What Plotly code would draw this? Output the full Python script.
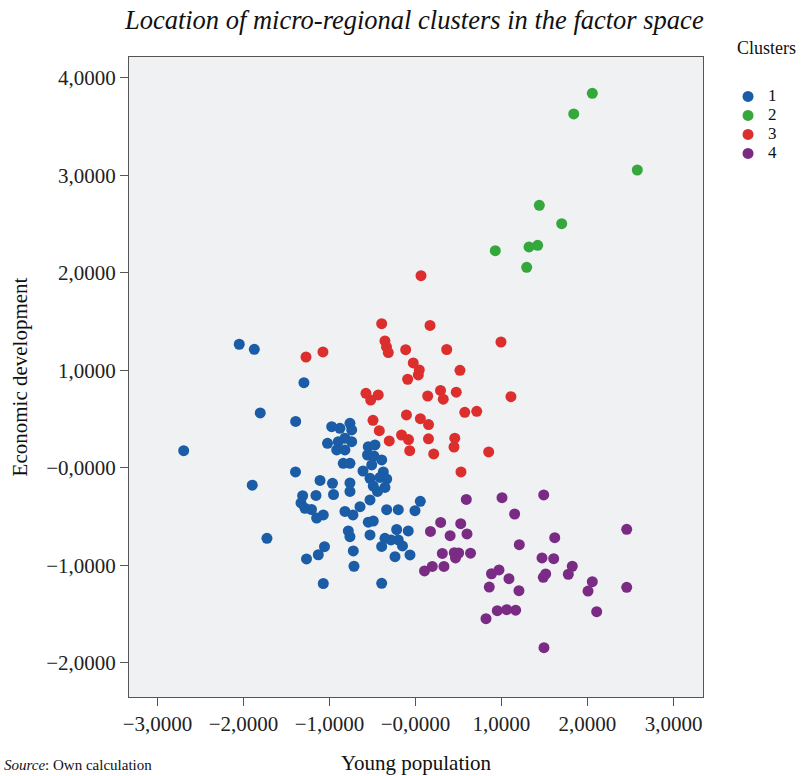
import plotly.graph_objects as go

# ---------------- data ----------------
cluster_names = ["1", "2", "3", "4"]
cluster_colors = ["#1a5ca6", "#35a83c", "#dd2e2e", "#7a2c85"]

c1_x = [-2.049, -1.874, -1.297, -1.805, -1.393, -2.695, -1.395, -1.898, -1.110, -0.965,
        -0.953, -1.312, -1.331, -1.285, -1.157, -1.209, -1.072, -1.149, -1.727, -1.058,
        -1.130, -1.267, -1.072, -0.974, -0.878, -0.762, -0.742, -1.023, -0.898, -0.820,
        -0.742, -0.916, -0.820, -0.549, -0.471, -0.558, -0.483, -0.393, -0.840, -0.762,
        -0.509, -0.610, -0.374, -0.529, -0.413, -0.335, -0.762, -0.491, -0.355, -0.762,
        -0.442, -0.529, -0.645, -0.820, -0.727, -0.335, -0.200, -0.006, 0.056, -0.549,
        -0.491, -0.781, -0.762, -0.529, -0.219, -0.084, -0.355, -0.285, -0.200, -0.393,
        -0.151, -0.723, -0.238, -0.064, -0.715, -0.393]
c1_y = [1.269, 1.217, 0.875, 0.564, 0.477, 0.177, -0.041, -0.177, -0.128, -0.157,
        -0.272, -0.285, -0.359, -0.413, -0.282, -0.426, -0.482, -0.513, -0.721, -0.807,
        -0.890, -0.933, -1.185, 0.424, 0.407, 0.458, 0.390, 0.253, 0.270, 0.305,
        0.270, 0.185, 0.185, 0.218, 0.236, 0.133, 0.123, 0.082, 0.048, 0.048,
        0.031, -0.031, -0.041, -0.106, -0.097, -0.113, -0.154, -0.185, -0.200, -0.241,
        -0.241, -0.328, -0.397, -0.446, -0.482, -0.428, -0.428, -0.438, -0.342, -0.556,
        -0.544, -0.646, -0.705, -0.687, -0.631, -0.646, -0.721, -0.738, -0.738, -0.805,
        -0.800, -0.851, -0.910, -0.892, -1.008, -1.183]

c2_x = [2.056, 1.840, 2.579, 1.440, 1.700, 1.320, 1.421, 0.928, 1.293]
c2_y = [3.843, 3.631, 3.056, 2.694, 2.506, 2.267, 2.284, 2.229, 2.058]

c3_x = [-1.273, -1.076, -0.393, -0.355, -0.337, -0.316, -0.114, -0.026, 0.044, 0.033,
        -0.091, 0.064, 0.169, 0.363, 0.517, 0.994, -0.576, -0.433, -0.521, 0.142,
        0.291, 0.323, 0.474, 0.573, 0.712, 1.110, -0.105, 0.057, 0.152, -0.494,
        -0.421, -0.162, -0.081, -0.305, 0.151, 0.457, 0.448, -0.067, 0.212, 0.851,
        0.529]
c3_y = [1.138, 1.190, 1.480, 1.303, 1.241, 1.183, 1.213, 1.077, 1.005, 0.954,
        0.910, 1.972, 1.462, 1.215, 1.002, 1.292, 0.766, 0.749, 0.697, 0.738,
        0.795, 0.706, 0.777, 0.571, 0.581, 0.731, 0.544, 0.505, 0.445, 0.489,
        0.383, 0.338, 0.291, 0.277, 0.299, 0.305, 0.215, 0.177, 0.144, 0.164,
        -0.041]

c4_x = [0.591, 1.006, 1.491, 1.153, 2.456, 1.619, 0.293, 0.526, 0.174, 0.403,
        0.599, 1.207, 0.312, 0.451, 0.502, 0.465, 0.640, 0.195, 0.105, 0.331,
        1.471, 1.607, 1.823, 1.777, 1.514, 1.486, 0.884, 0.971, 1.087, 0.858,
        1.203, 2.056, 2.006, 2.456, 2.107, 0.951, 1.060, 1.165, 0.820, 1.494]
c4_y = [-0.323, -0.305, -0.277, -0.472, -0.629, -0.715, -0.559, -0.571, -0.651, -0.694,
        -0.677, -0.787, -0.877, -0.869, -0.872, -0.923, -0.874, -1.010, -1.056, -1.010,
        -0.923, -0.930, -1.008, -1.090, -1.087, -1.121, -1.085, -1.046, -1.135, -1.221,
        -1.258, -1.166, -1.262, -1.224, -1.474, -1.464, -1.453, -1.459, -1.546, -1.843]

x_tick_vals = [-3, -2, -1, 0, 1, 2, 3]
x_tick_text = ["\u22123,0000", "\u22122,0000", "\u22121,0000", "\u22120,0000", "1,0000", "2,0000", "3,0000"]
y_tick_vals = [-2, -1, 0, 1, 2, 3, 4]
y_tick_text = ["\u22122,0000", "\u22121,0000", "\u22120,0000", "1,0000", "2,0000", "3,0000", "4,0000"]

title_text = "Location of micro-regional clusters in the factor space"
x_title = "Young population"
y_title = "Economic development"
legend_title = "Clusters"
source_text = "<i>Source</i>: Own calculation"

# ---------------- figure ----------------
serif = "Liberation Serif, Times New Roman, serif"
xs = [c1_x, c2_x, c3_x, c4_x]
ys = [c1_y, c2_y, c3_y, c4_y]

fig = go.Figure()
for name, col, xv, yv in zip(cluster_names, cluster_colors, xs, ys):
    fig.add_trace(go.Scatter(
        x=xv, y=yv, mode="markers",
        name="<span style='font-size:17px'>" + name + "</span>",
        marker=dict(size=11, color=col, line=dict(width=0)),
    ))

axis_common = dict(
    showgrid=False, zeroline=False, showline=True, linecolor="#555555", linewidth=1,
    mirror=True, ticks="outside", ticklen=8, tickcolor="#555555", automargin=False,
    tickfont=dict(family=serif, size=21, color="#222222"),
)

fig.update_layout(
    width=803, height=776,
    paper_bgcolor="white", plot_bgcolor="#f0f1f3",
    margin=dict(l=129, r=100, t=57, b=79, autoexpand=False),
    title=dict(text="<i>" + title_text + "</i>", x=0.497, xref="paper", xanchor="center",
               yref="container", y=0.974, yanchor="middle",
               font=dict(family=serif, size=26.5, color="#111111")),
    xaxis=dict(range=[-3.331, 3.343], tickvals=x_tick_vals, ticktext=x_tick_text,
               title=dict(text=x_title, font=dict(family=serif, size=21, color="#111111"), standoff=20),
               **axis_common),
    yaxis=dict(range=[-2.349, 4.215], tickvals=y_tick_vals, ticktext=y_tick_text,
               title=dict(text=y_title, font=dict(family=serif, size=21, color="#111111"), standoff=12),
               **axis_common),
    legend=dict(x=1.0436, xanchor="left", y=0.961, yanchor="top",
                font=dict(family=serif, size=11, color="#111111"),
                bgcolor="rgba(0,0,0,0)", itemwidth=30, tracegroupgap=0),
    showlegend=True,
    annotations=[
        dict(text=legend_title, xref="paper", yref="paper", x=1.055, y=1.0141, xanchor="left",
             yanchor="middle", showarrow=False,
             font=dict(family=serif, size=18, color="#111111")),
        dict(text=source_text, xref="paper", yref="paper", x=-0.2213, y=-0.1219, xanchor="left",
             yanchor="bottom", showarrow=False,
             font=dict(family=serif, size=15, color="#111111")),
    ],
)

fig.write_html("out.html", config={"displayModeBar": False},
               post_script="document.body.style.margin='0';")
